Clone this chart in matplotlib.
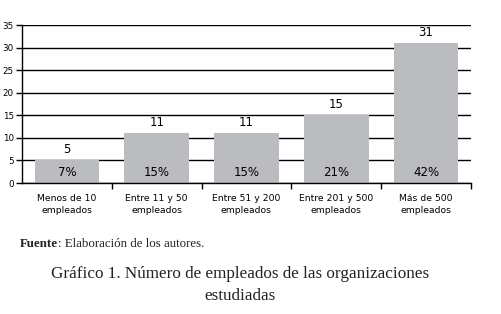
import matplotlib.pyplot as plt
import numpy as np

categorias = ["Menos de 10\nempleados", "Entre 11 y 50\nempleados", "Entre 51 y 200\nempleados",
              "Entre 201 y 500\nempleados", "Más de 500\nempleados"]
valores = [5, 11, 11, 15, 31]
porcentajes = ["7%", "15%", "15%", "21%", "42%"]

fig = plt.figure(figsize=(5.02, 3.14), dpi=100)
ax = fig.add_axes([0.044, 0.417, 0.894, 0.503])

x = np.arange(len(valores))
ax.set_axisbelow(True)
ax.yaxis.grid(True, color="black", linewidth=1)
ax.bar(x, valores, width=0.72, color="#bbbcbf", zorder=2)

for i in range(len(valores)):
    ax.text(x[i], valores[i] + 1.0, str(valores[i]), ha="center", va="bottom", fontsize=8.5)
    ax.text(x[i], 2.4, porcentajes[i], ha="center", va="center", fontsize=8.5)

ax.set_xlim(-0.5, 4.5)
ax.set_ylim(0, 35)
ax.set_yticks(range(0, 36, 5))
ax.set_xticks(x)
ax.set_xticklabels(categorias, fontsize=6.7, linespacing=1.45)
ax.set_xticks(list(x[:-1] + 0.5) + [4.5], minor=True)
ax.tick_params(axis="x", which="major", length=0, pad=8)
ax.tick_params(axis="x", which="minor", length=4, direction="out", width=1)
ax.tick_params(axis="y", labelsize=6.3, length=4, width=1, pad=2)
ax.spines["top"].set_visible(False)
ax.spines["right"].set_visible(False)
for s in ["left", "bottom"]:
    ax.spines[s].set_linewidth(1)

# Fuente en negrita y el resto a continuación
t1 = fig.text(0.04, 0.222, "Fuente", fontsize=9.3, family="Liberation Serif", fontweight="bold",
              va="center", color="#222222")
fig.canvas.draw()
bb = t1.get_window_extent().transformed(fig.transFigure.inverted())
fig.text(bb.x1, 0.222, ": Elaboración de los autores.", fontsize=9.3, family="Liberation Serif",
         va="center", color="#222222")
fig.text(0.478, 0.092, "Gráfico 1. Número de empleados de las organizaciones\nestudiadas",
         fontsize=12.3, family="Liberation Serif", ha="center", va="center", linespacing=1.5,
         color="#222222")

fig.savefig("out.png", dpi=100)
